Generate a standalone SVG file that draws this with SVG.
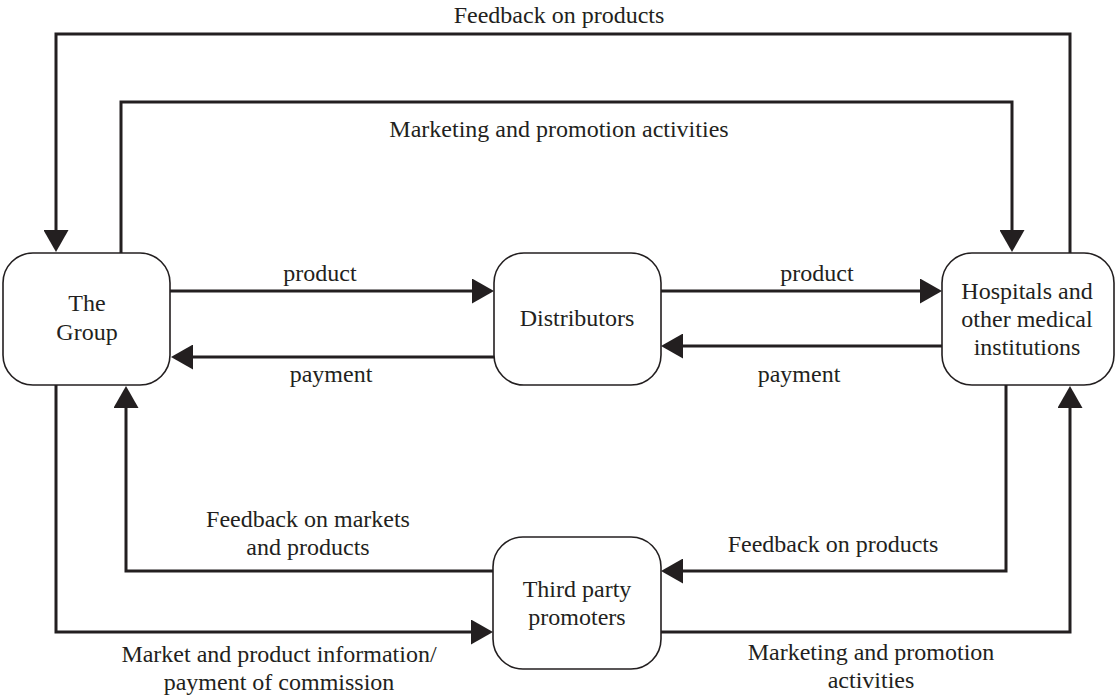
<svg xmlns="http://www.w3.org/2000/svg" width="1117" height="698" viewBox="0 0 1117 698">
<style>
.node{fill:#fff;stroke:#231f20;stroke-width:1.6}
.c{fill:none;stroke:#231f20;stroke-width:3;marker-end:url(#ah)}
text{font-family:"Liberation Serif","Times New Roman",serif;font-size:24px;fill:#231f20;text-anchor:middle}
</style>
<defs>
<marker id="ah" markerUnits="userSpaceOnUse" markerWidth="22" markerHeight="25" refX="0" refY="12.5" orient="auto" viewBox="0 0 22 25">
<path d="M0,0 L22,12.5 L0,25 z" fill="#231f20"/>
</marker>
</defs>
<rect width="1117" height="698" fill="#fff"/>
<g id="connectors">
<path class="c" d="M1070,253 V34 H56 V230"/>
<path class="c" d="M121,253 V102 H1012 V230"/>
<path class="c" d="M170,291 H472"/>
<path class="c" d="M661,291 H920"/>
<path class="c" d="M494,357 H193"/>
<path class="c" d="M942,346 H683"/>
<path class="c" d="M56,385 V632 H471"/>
<path class="c" d="M493,571 H126 V408"/>
<path class="c" d="M1006,385 V571 H683"/>
<path class="c" d="M661,632 H1070 V408"/>
<text x="559" y="23">Feedback on products</text>
<text x="559" y="137">Marketing and promotion activities</text>
<text x="320" y="281">product</text>
<text x="817" y="281">product</text>
<text x="331" y="382">payment</text>
<text x="799" y="382">payment</text>
<text x="308" y="527">Feedback on markets</text>
<text x="308" y="555">and products</text>
<text x="833" y="552">Feedback on products</text>
<text x="279" y="662">Market and product information/</text>
<text x="279" y="690">payment of commission</text>
<text x="871" y="660">Marketing and promotion</text>
<text x="871" y="688">activities</text>
</g>
<g id="group">
<rect class="node" x="3" y="253" width="167" height="132" rx="30"/>
<text x="87" y="311">The</text>
<text x="87" y="340">Group</text>
</g>
<g id="distributors">
<rect class="node" x="494" y="253" width="167" height="132" rx="30"/>
<text x="577" y="326">Distributors</text>
</g>
<g id="hospitals">
<rect class="node" x="942" y="253" width="172" height="132" rx="30"/>
<text x="1027" y="299">Hospitals and</text>
<text x="1027" y="327">other medical</text>
<text x="1027" y="355">institutions</text>
</g>
<g id="promoters">
<rect class="node" x="493" y="537" width="168" height="132" rx="30"/>
<text x="577" y="597">Third party</text>
<text x="577" y="625">promoters</text>
</g>
</svg>
